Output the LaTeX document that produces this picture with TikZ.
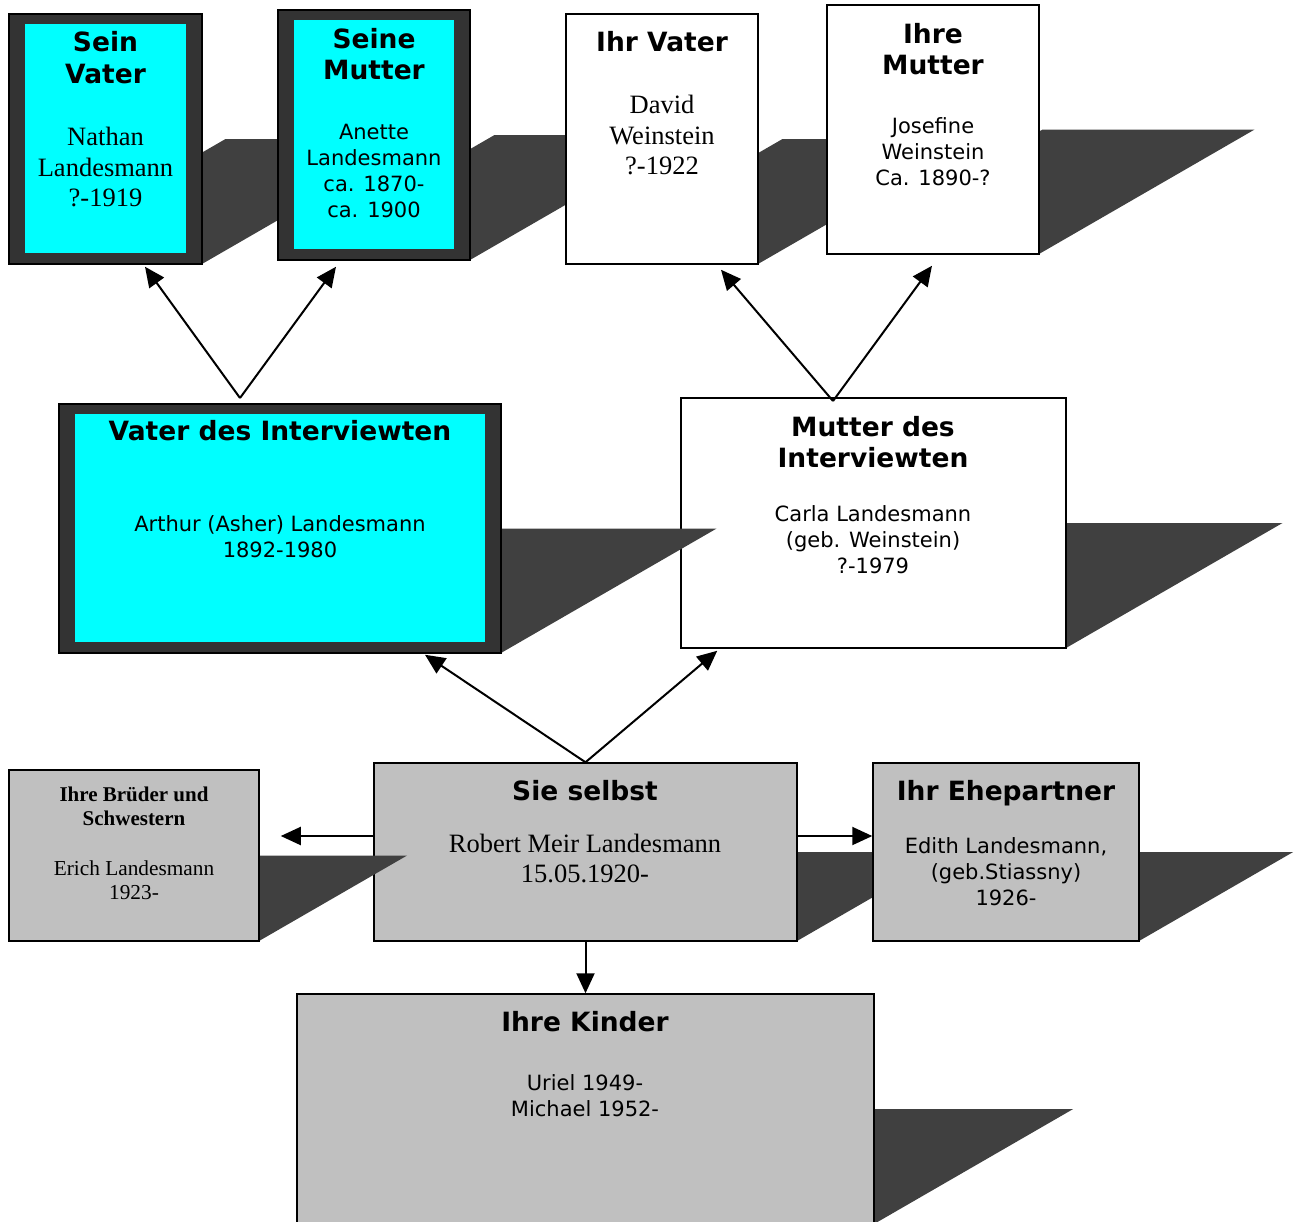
\documentclass[tikz,border=0pt]{standalone}
\usepackage{fontspec}
\setmainfont{Liberation Serif}
\newfontfamily\verd{DejaVu Sans}
\usetikzlibrary{arrows.meta}
\definecolor{shadowgray}{HTML}{404040}
\definecolor{framegray}{HTML}{333333}
\definecolor{silvergray}{HTML}{C0C0C0}
\definecolor{kincyan}{RGB}{0,255,255}
% box with its slanted shadow: style, name, x, y, width, height
\newcommand{\castbox}[6]{%
  \fill[shadowgray] (#3-#5/2,#4+#6/2) -- ++(#5,0) -- ++(0.866*#6,-#6/2) -- ++(-#5,0) -- cycle;
  \node[#1,minimum width=#5pt,minimum height=#6pt] (#2) at (#3,#4) {};}
\tikzset{
  kinbox/.style={draw=black,line width=1.5pt,fill=framegray,
    path picture={\fill[kincyan] ([xshift=16pt,yshift=11pt]path picture bounding box.south west)
      rectangle ([xshift=-16pt,yshift=-10pt]path picture bounding box.north east);}},
  whitebox/.style={draw=black,line width=1.5pt,fill=white},
  graybox/.style={draw=black,line width=1.5pt,fill=silvergray},
  headtxt/.style={font=\verd\bfseries\fontsize{26.5}{31.5}\selectfont,align=center,inner sep=0pt},
  sanstxt/.style={font=\verd\fontsize{21}{26}\selectfont,align=center,inner sep=0pt},
  seriftxt/.style={font=\fontsize{26.5}{30.5}\selectfont,align=center,inner sep=0pt},
  smallhead/.style={font=\bfseries\fontsize{21}{24}\selectfont,align=center,inner sep=0pt},
  smallserif/.style={font=\fontsize{21.3}{24}\selectfont,align=center,inner sep=0pt},
  link/.style={->,line width=2pt}
}
\begin{document}
\begin{tikzpicture}[x=1pt,y=-1pt,>={Triangle[length=20pt,width=18pt]}]
\useasboundingbox (0,0) rectangle (1300,1221);
% grandparents
\castbox{kinbox}{sv}{105.5}{139}{193}{250}
\castbox{kinbox}{sm}{374}{135}{192}{250}
\castbox{whitebox}{iv}{662}{139}{192}{250}
\castbox{whitebox}{im}{933}{129.5}{212}{249}
% parents
\castbox{whitebox}{mi}{873.5}{523}{385}{250}
\castbox{kinbox}{vi}{280}{528.5}{442}{249}
% interviewee, siblings, spouse, children
\castbox{graybox}{si}{585.5}{852}{423}{178}
\castbox{graybox}{br}{134}{855.5}{250}{171}
\castbox{graybox}{ep}{1006}{852}{266}{178}
\castbox{graybox}{ki}{585.5}{1109}{577}{230}
%
\node[headtxt] (svt) at (105.5,57.5) {Sein\\Vater};
\node[seriftxt] (svb) at (105.5,167) {Nathan\\Landesmann\\?-1919};
\node[headtxt] (smt) at (374,54) {Seine\\Mutter};
\node[sanstxt] (smb) at (374,170.5) {Anette\\Landesmann\\ca. 1870-\\ca. 1900};
\node[headtxt] (ivt) at (662,42) {Ihr Vater};
\node[seriftxt] (ivb) at (662,135) {David\\Weinstein\\?-1922};
\node[headtxt] (imt) at (933,49) {Ihre\\Mutter};
\node[sanstxt] (imb) at (933,152) {Josefine\\Weinstein\\Ca. 1890-?};
\node[headtxt] (vit) at (280,431) {Vater des Interviewten};
\node[sanstxt] (vib) at (280,537) {Arthur (Asher) Landesmann\\1892-1980};
\node[headtxt] (mit) at (873,442) {Mutter des\\Interviewten};
\node[sanstxt] (mib) at (873,539.5) {Carla Landesmann\\(geb. Weinstein)\\?-1979};
\node[smallhead] (brt) at (134,806) {Ihre Brüder und\\Schwestern};
\node[smallserif] (brb) at (134,880) {Erich Landesmann\\1923-};
\node[headtxt] (sit) at (585,791) {Sie selbst};
\node[seriftxt] (sib) at (585,858.5) {Robert Meir Landesmann\\15.05.1920-};
\node[headtxt] (ept) at (1006,793) {Ihr Ehepartner};
\node[sanstxt] (epb) at (1006,871.5) {Edith Landesmann,\\(geb.Stiassny)\\1926-};
\node[headtxt] (kit) at (585,1022) {Ihre Kinder};
\node[sanstxt] (kib) at (585,1095.5) {Uriel 1949-\\Michael 1952-};
%
\coordinate (vfork) at (240,398);
\coordinate (mfork) at (833,401);
\draw[link] (vfork) to ([xshift=39.5pt,yshift=-2pt]sv.south);
\draw[link] (vfork) to ([xshift=-38pt,yshift=-6pt]sm.south);
\draw[link] (mfork) to ([xshift=59pt,yshift=-5pt]iv.south);
\draw[link] (mfork) to ([xshift=-1pt,yshift=-11pt]im.south);
\draw[link] (si.north) to ([xshift=145pt,yshift=-1pt]vi.south);
\draw[link] (si.north) to ([xshift=37pt,yshift=-2pt]mi.south west);
\draw[link] ([yshift=16pt]si.west) to ([xshift=21pt,yshift=19.5pt]br.east);
\draw[link] ([yshift=16pt]si.east) to ([yshift=16pt]ep.west);
\draw[link] (si.south) to (ki.north);
\end{tikzpicture}
\end{document}
